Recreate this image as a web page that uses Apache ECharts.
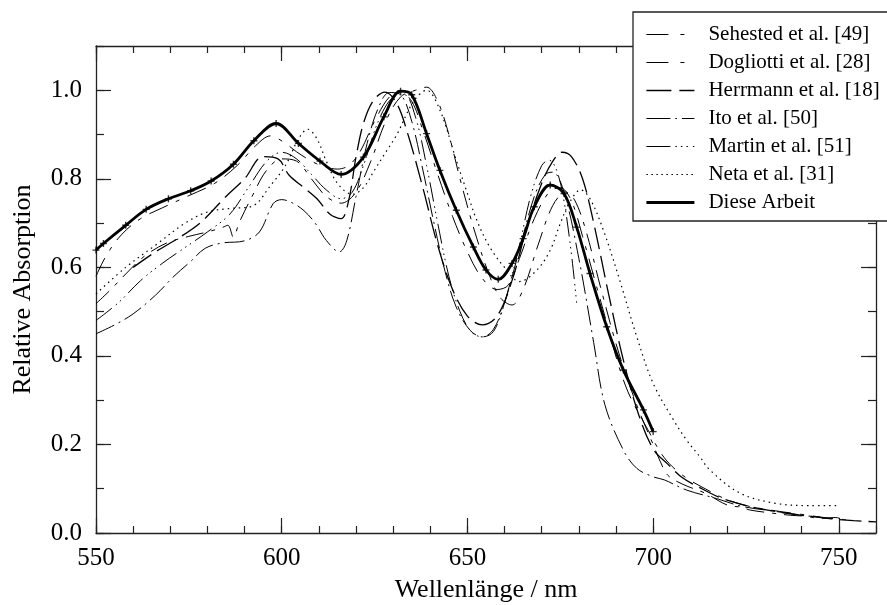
<!DOCTYPE html>
<html>
<head>
<meta charset="utf-8">
<script src="https://cdn.jsdelivr.net/npm/echarts@6/dist/echarts.min.js"></script>
<style>html,body{margin:0;padding:0;background:#fff}#chart{width:887px;height:605px}</style>
</head>
<body>
<div id="chart"></div>
<script>
// Wavelength (nm) / relative absorption pairs
const sehested = [[550,0.58],[553,0.63],[557,0.675],[562,0.71],[568,0.735],[575,0.762],[582,0.79],[588,0.83],[593,0.875],[597,0.897],[601,0.88],[604,0.861],[608,0.84],[611.2,0.828],[615,0.822],[618,0.83],[621,0.86],[625,0.93],[629,0.985],[632,0.995],[635,0.975],[638,0.91],[642,0.81],[646,0.715],[650,0.635],[654,0.575],[658,0.55],[661,0.56],[664,0.62],[668,0.71],[672,0.77],[675,0.78],[678,0.75],[681,0.67],[686,0.52],[692.5,0.334],[698.6,0.233],[703,0.17],[708,0.13],[714,0.10],[720,0.075],[726,0.06],[733,0.05],[740,0.042],[746,0.035],[752,0.03]];
const dogliotti = [[550,0.518],[554,0.55],[558,0.585],[563,0.625],[569,0.655],[575,0.67],[580,0.68],[584,0.69],[585.5,0.695],[587,0.668],[588.5,0.70],[592,0.76],[596,0.82],[600,0.845],[604,0.84],[608,0.80],[612,0.76],[616,0.745],[620,0.77],[624,0.84],[628,0.93],[632,0.985],[636,1.0],[639,1.007],[642,0.975],[645,0.90],[648,0.80],[652,0.68],[656,0.58],[659,0.53],[662,0.515],[665,0.55],[669,0.65],[673,0.74],[676.5,0.77],[679,0.75],[682,0.68],[686,0.55],[691,0.40],[696,0.28],[700,0.20],[702,0.16],[704,0.13],[708,0.11],[714,0.09],[720,0.063],[724,0.058],[726,0.052],[732,0.045],[737,0.04],[741,0.038],[745,0.033],[749,0.035],[752,0.028]];
const herrmann = [[560,0.60],[566,0.635],[572,0.665],[578,0.70],[585,0.76],[590,0.80],[595,0.85],[599,0.845],[602,0.808],[606,0.78],[609.5,0.755],[613,0.72],[616,0.71],[618,0.75],[620,0.849],[622,0.925],[624.7,0.977],[627.8,0.996],[631,0.97],[634,0.90],[638,0.78],[642,0.65],[646,0.55],[650,0.49],[654,0.47],[658,0.49],[662,0.57],[666,0.69],[670,0.79],[673,0.84],[675.5,0.86],[678,0.85],[681,0.80],[684,0.70],[688,0.54],[692,0.39],[696,0.27],[700,0.19],[704,0.155],[708,0.124],[712,0.105],[718,0.08],[725,0.062],[732,0.05],[740,0.04],[748,0.032],[754,0.028],[760,0.025]];
const ito = [[550,0.45],[555,0.47],[560,0.495],[566,0.537],[571,0.58],[575.3,0.612],[579.4,0.643],[584,0.655],[590,0.66],[594,0.68],[597.7,0.744],[600,0.753],[603,0.745],[606,0.728],[609,0.70],[612,0.661],[615.5,0.635],[617.5,0.66],[620,0.76],[623,0.88],[626,0.96],[629,0.995],[632,0.99],[635,0.93],[638,0.82],[641,0.70],[644,0.59],[647,0.51],[650.7,0.458],[654,0.443],[657,0.46],[660,0.52],[664,0.64],[668,0.76],[671,0.81],[673,0.815],[676,0.77],[680,0.62],[684,0.43],[687,0.29],[692,0.187],[695.6,0.146],[700,0.127],[703,0.12],[709,0.097],[717,0.078],[724,0.06],[732,0.05],[740,0.04],[745,0.036]];
const martin = [[550,0.48],[556,0.52],[562,0.57],[568,0.61],[574,0.645],[580,0.68],[586,0.72],[591,0.78],[596,0.84],[600,0.86],[604,0.845],[608,0.81],[612,0.775],[616,0.755],[619,0.77],[622,0.83],[626,0.93],[630,0.985],[633,0.99],[636,0.94],[639,0.83],[642,0.70],[645,0.58],[648,0.50],[651,0.455],[654,0.443],[657,0.455],[660,0.52],[664,0.65],[667,0.76],[670,0.83],[672,0.842],[674,0.82],[676,0.75],[678,0.63],[679.4,0.52]];
const neta = [[550,0.54],[558,0.60],[566,0.65],[574,0.70],[580,0.725],[586,0.733],[592,0.738],[597,0.785],[601,0.83],[604.5,0.89],[607,0.912],[609.5,0.89],[612,0.84],[615,0.79],[619,0.765],[622,0.78],[625,0.82],[628,0.86],[631,0.90],[635.5,0.975],[639,1.0],[642.6,0.955],[647,0.842],[650,0.767],[652.5,0.707],[656,0.646],[660,0.60],[664,0.568],[668.7,0.594],[672.3,0.639],[675,0.699],[677.6,0.748],[680.5,0.775],[683,0.755],[686.6,0.684],[691,0.571],[695.6,0.443],[700,0.338],[705.5,0.255],[709,0.21],[712.6,0.172],[715.3,0.142],[723.4,0.09],[733,0.067],[742,0.062],[750,0.062]];
const diese = [[550,0.639],[552,0.654],[558,0.695],[563.5,0.731],[569.5,0.755],[575.5,0.773],[581,0.795],[587,0.833],[592.5,0.886],[598.5,0.925],[604.5,0.880],[610.3,0.840],[616,0.810],[622,0.849],[627.5,0.940],[632,0.998],[635,0.990],[639,0.902],[642.6,0.819],[647,0.729],[651.6,0.646],[655,0.594],[658.3,0.573],[662,0.609],[665,0.665],[668,0.737],[672.3,0.786],[676,0.767],[679.4,0.691],[683,0.586],[687.5,0.466],[692,0.368],[697.4,0.278],[700,0.229]];

const seriesNames = ['Sehested et al. [49]','Dogliotti et al. [28]','Herrmann et al. [18]','Ito et al. [50]','Martin et al. [51]','Neta et al. [31]','Diese Arbeit'];
const xTickValues = [550,600,650,700,750];
const yTickValues = [0.0,0.2,0.4,0.6,0.8,1.0];

const FONT = '"Liberation Serif", "Times New Roman", serif';
const datasets = [sehested, dogliotti, herrmann, ito, martin, neta, diese];
const styles = [
  {width:1, type:[20,9,4,9]},
  {width:1, type:[18,8,4,8]},
  {width:1.3, type:[22,7]},
  {width:1, type:[20,5,2,5]},
  {width:1, type:[20,5,1.5,4,1.5,4,1.5,5]},
  {width:1.2, type:[1.5,4]},
  {width:2.8, type:'solid'}
];
const legendStyles = [
  {width:1, type:[22,12,4,12]},
  {width:1, type:[22,12,4,12]},
  {width:1.5, type:[25,8]},
  {width:1, type:[24,5,1.5,5]},
  {width:1, type:[24,5,1.5,4,1.5,4,1.5,5]},
  {width:1.2, type:[1.5,3.5]},
  {width:2.8, type:'solid'}
];

const series = datasets.map((d,i)=>({
  name: seriesNames[i], type:'line', data:d, xAxisIndex:0, yAxisIndex:0,
  showSymbol:false, symbol:'none', smooth:0.35, animation:false,
  lineStyle:{color:'#000', width:styles[i].width, type:styles[i].type, cap:'butt'},
  itemStyle:{color:'#000'}, z: i===6?5:3
}));
series.push({
  name:'diese-markers', type:'scatter', data:diese, xAxisIndex:0, yAxisIndex:0,
  symbol:'path://M4,0H6V4H10V6H6V10H4V6H0V4H4Z', symbolSize:7,
  itemStyle:{color:'#000'}, animation:false, z:6, silent:true
});

const axisLineStyle = {lineStyle:{color:'#222', width:1.3}};
function xAx(pos, interval, len, labels, line){
  return {type:'value', position:pos, min:550, max:760, interval:interval,
    axisLine:{show:line, onZero:false, ...axisLineStyle},
    axisTick:{show:true, inside:true, length:len, lineStyle:{color:'#222', width:1.2}},
    axisLabel:{show:labels, showMaxLabel:false, color:'#000', fontFamily:FONT, fontSize:25, margin:13,
      formatter:v=> xTickValues.includes(Math.round(v)) ? String(Math.round(v)) : ''},
    splitLine:{show:false}};
}
function yAx(pos, interval, len, labels, line){
  return {type:'value', position:pos, min:0, max:1.1, interval:interval,
    axisLine:{show:line, onZero:false, ...axisLineStyle},
    axisTick:{show:true, inside:true, length:len, lineStyle:{color:'#222', width:1.2}},
    axisLabel:{show:labels, showMaxLabel:false, color:'#000', fontFamily:FONT, fontSize:25, margin:14,
      formatter:v=> yTickValues.some(t=>Math.abs(t-v)<1e-6) ? v.toFixed(1) : ''},
    splitLine:{show:false}};
}
const xAxes = [xAx('bottom',50,15,true,true), xAx('bottom',10,7,false,false), xAx('top',50,15,false,true), xAx('top',10,7,false,false)];
xAxes[0].name = 'Wellenlänge / nm';
xAxes[0].nameLocation = 'middle';
xAxes[0].nameGap = 44;
xAxes[0].nameTextStyle = {color:'#000', fontFamily:FONT, fontSize:26};
const yAxes = [yAx('left',0.2,15,true,true), yAx('left',0.1,8,false,false), yAx('right',0.2,15,false,true), yAx('right',0.1,8,false,false)];
yAxes[0].name = 'Relative Absorption';
yAxes[0].nameLocation = 'middle';
yAxes[0].nameGap = 60;
yAxes[0].nameRotate = 90;
yAxes[0].nameTextStyle = {color:'#000', fontFamily:FONT, fontSize:26};

const chart = echarts.init(document.getElementById('chart'), null, {renderer:'canvas'});
chart.setOption({
  backgroundColor:'#fff',
  animation:false,
  grid:{left:96, right:11, top:46, bottom:72, containLabel:false, outerBoundsMode:'none'},
  xAxis:xAxes,
  yAxis:yAxes,
  legend:{
    data:seriesNames.map((n,i)=>({name:n,
      itemStyle:{opacity:0, borderWidth:0},
      lineStyle:{color:'#000', width:legendStyles[i].width, type:legendStyles[i].type, cap:'butt', opacity:1}})),
    orient:'vertical', left:633, top:12,
    itemWidth:48, itemHeight:14, itemGap:7,
    padding:[12,30,8,12],
    backgroundColor:'#fff', borderColor:'#222', borderWidth:1.3,
    textStyle:{color:'#000', fontFamily:FONT, fontSize:21, padding:[0,0,0,9]},
    selectedMode:false
  },
  series:series
});
</script>
</body>
</html>
